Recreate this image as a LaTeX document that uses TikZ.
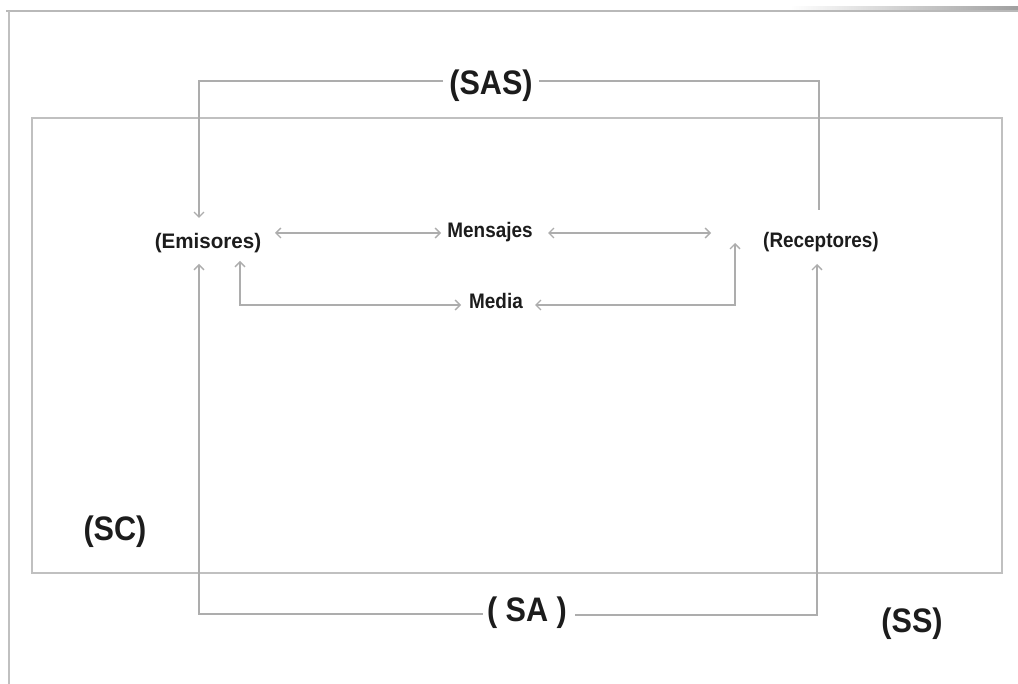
\documentclass[tikz,border=0pt]{standalone}
\usepackage{fontspec}
\setmainfont{Liberation Sans}
\newfontfamily\labfont[FakeStretch=0.9]{Liberation Sans}
\usetikzlibrary{arrows.meta}
\definecolor{linegray}{HTML}{ADADAD}
\definecolor{edgegray}{HTML}{C0C0C0}
\definecolor{txt}{HTML}{1C1C1C}
\begin{document}
\begin{tikzpicture}[x=1pt,y=-1pt,
  big/.style={anchor=base,inner sep=0pt,text=txt,font=\labfont\bfseries\fontsize{34}{36}\selectfont},
  small/.style={anchor=base,inner sep=0pt,text=txt,font=\labfont\bfseries\fontsize{21}{24}\selectfont},
  conn/.style={draw=linegray,line width=1.3pt},
  box/.style={draw=edgegray,line width=1.6pt},
  >={Straight Barb[length=5pt,width=10pt]}]
\useasboundingbox[fill=white] (0,0) rectangle (1018,684);
% page edges
\shade[left color=white,right color=gray!75] (790,7) rectangle (1018,12);
\draw[draw=gray!55,line width=1.6pt] (6,11) -- (1018,11);
\draw[draw=edgegray,line width=1.6pt] (9,11) -- (9,684);
% SC frame
\draw[box] (32,118) rectangle (1002,573);
% labels
\node[big] (sas) at (491,95) {(SAS)};
\node[big] (sa) at (527,621) {( SA )};
\node[big] (sc) at (115,540) {(SC)};
\node[big] (ss) at (912,632) {(SS)};
\node[small] (emis) at (208,249) {\addfontfeature{FakeStretch=0.98}(Emisores)};
\node[small] (mens) at (490,238) {Mensajes};
\node[small] (rec) at (821,248) {(Receptores)};
\node[small] (media) at (496,309) {Media};
% waypoints
\coordinate (sasL) at (199,81);
\coordinate (sasR) at (819,81);
\coordinate (emTop) at (199,218);
\coordinate (recTop) at (819,210);
\coordinate (saL) at (199,614);
\coordinate (saR) at (817,615);
\coordinate (emB1) at (199,264);
\coordinate (recB) at (817,264);
\coordinate (emB2) at (240,261);
\coordinate (medL) at (240,305);
\coordinate (medR) at (735,305);
\coordinate (recL) at (735,243);
\coordinate (m1a) at (275,233);
\coordinate (m1b) at (441,233);
\coordinate (m2a) at (548,233);
\coordinate (m2b) at (711,233);
\coordinate (md1) at (461,305);
\coordinate (md2) at (535,305);
% connectors
\draw[conn,->] ([xshift=-6pt]sas.west |- sasL) -- (sasL) -- (emTop);
\draw[conn] ([xshift=6pt]sas.east |- sasR) -- (sasR) -- (recTop);
\draw[conn,->] ([xshift=-4pt]sa.west |- saL) -- (saL) -- (emB1);
\draw[conn,->] ([xshift=8pt]sa.east |- saR) -- (saR) -- (recB);
\draw[conn,<->] (m1a) -- (m1b);
\draw[conn,<->] (m2a) -- (m2b);
\draw[conn,<->] (emB2) -- (medL) -- (md1);
\draw[conn,<->] (md2) -- (medR) -- (recL);
\end{tikzpicture}
\end{document}
